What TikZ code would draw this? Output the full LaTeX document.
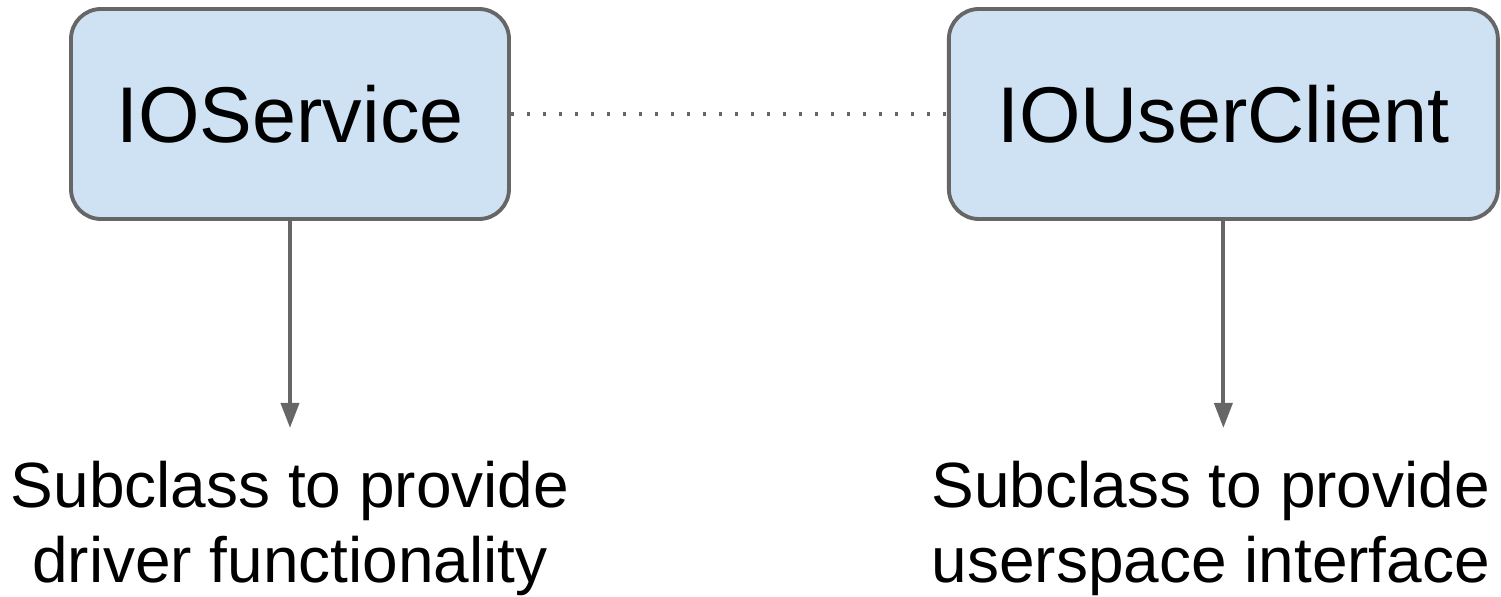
\documentclass[tikz,border=0pt]{standalone}
\usepackage{fontspec}
\setmainfont{Liberation Sans}
\usepackage{xcolor}
\usetikzlibrary{arrows.meta,positioning}

\definecolor{boxfill}{HTML}{CFE2F3}
\definecolor{linegray}{HTML}{666666}

\begin{document}
\begin{tikzpicture}[
  box/.style={draw=linegray, fill=boxfill, line width=2.2pt, rounded corners=0.6cm,
              minimum height=4.2cm, inner sep=0pt, font=\fontsize{45pt}{53pt}\selectfont},
  note/.style={align=center, inner sep=0pt, font=\fontsize{36.4pt}{42.7pt}\selectfont},
  arrow/.style={-{Triangle[length=0.5cm, width=0.36cm]}, draw=linegray, line width=2.2pt},
  link/.style={draw=linegray, line width=2.2pt, dash pattern=on 0.06cm off 0.26cm},
]
  \useasboundingbox (0,0) rectangle (30.02,-11.92);

  \node[box, minimum width=8.76cm] (svc) at (5.8,-2.28) {IOService};
  \node[box, minimum width=10.98cm, right=8.72cm of svc] (client) {IOUserClient};

  \node[note, below=4.8cm of svc] (svcnote) {Subclass to provide\\driver functionality};
  \node[note, below=4.8cm of client, xshift=-0.25cm] (clientnote) {Subclass to provide\\userspace interface};

  \draw[link] (svc) -- (client);
  \draw[arrow, shorten >=0.66cm] (svc) -- (svc |- svcnote.north);
  \draw[arrow, shorten >=0.66cm] (client) -- (client |- clientnote.north);
\end{tikzpicture}
\end{document}
